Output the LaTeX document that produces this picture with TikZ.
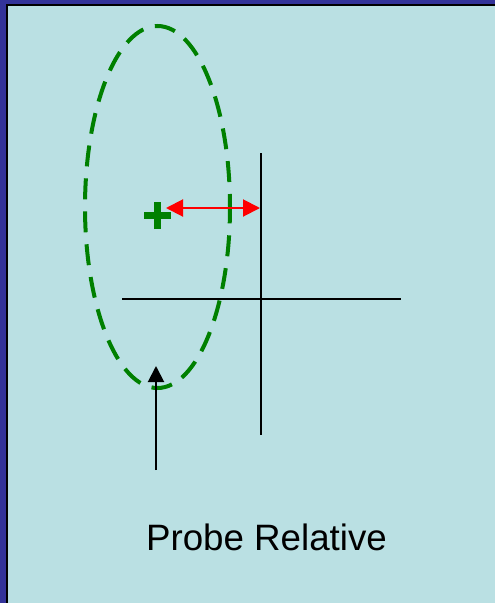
\documentclass[tikz,border=0pt]{standalone}
\usepackage{fontspec}
\setmainfont{Liberation Sans}
\usetikzlibrary{arrows.meta,shapes.geometric}
\definecolor{bgcyan}{RGB}{186,224,227}
\definecolor{frameblue}{RGB}{51,51,153}
\definecolor{ovalgreen}{RGB}{0,128,0}
\tikzset{
  axisline/.style={black, line width=2pt},
  oval/.style={ellipse, draw=ovalgreen, line width=4pt, dash pattern=on 21pt off 12pt, dash phase=8pt, inner sep=0pt},
  plusbar/.style={ovalgreen, line width=7.5pt},
  gap/.style={red, line width=2pt, {Triangle[length=17pt,width=17pt]}-{Triangle[length=17pt,width=17pt]}},
  pointer/.style={black, line width=2pt, -{Triangle[length=16pt,width=16pt]}},
  caption/.style={font=\fontsize{36.7pt}{40pt}\selectfont, anchor=base, inner sep=0pt}
}
\begin{document}
\begin{tikzpicture}[x=1pt,y=-1pt]
\useasboundingbox (0,0) rectangle (495,603);
\fill[frameblue] (0,0) rectangle (495,603);
\fill[black] (6,4) rectangle (495,603);
\fill[bgcyan] (8,6) rectangle (495,603);
% axes
\coordinate (vtop) at (261,153);
\coordinate (vbot) at (261,435);
\coordinate (hl) at (122,299);
\coordinate (hr) at (401,299);
\draw[axisline] (vtop) -- (vbot);
\draw[axisline] (hl) -- (hr);
% oval
\node[oval, minimum width=145pt, minimum height=362pt] (ov) at (157.5,207) {};
% plus
\coordinate (plus) at (157.5,215.5);
\draw[plusbar] ([xshift=-13.5pt]plus) -- ([xshift=13.5pt]plus);
\draw[plusbar] ([yshift=-13.5pt]plus) -- ([yshift=13.5pt]plus);
% red double arrow
\coordinate (ga) at (166,208);
\coordinate (gb) at (260,208);
\draw[gap] (ga) -- (gb);
% pointer
\coordinate (ptail) at (156,470);
\coordinate (ptip) at (156,366);
\draw[pointer] (ptail) -- (ptip);
% caption
\node[caption] (cap) at (266.5,550) {Probe Relative};
\end{tikzpicture}
\end{document}
